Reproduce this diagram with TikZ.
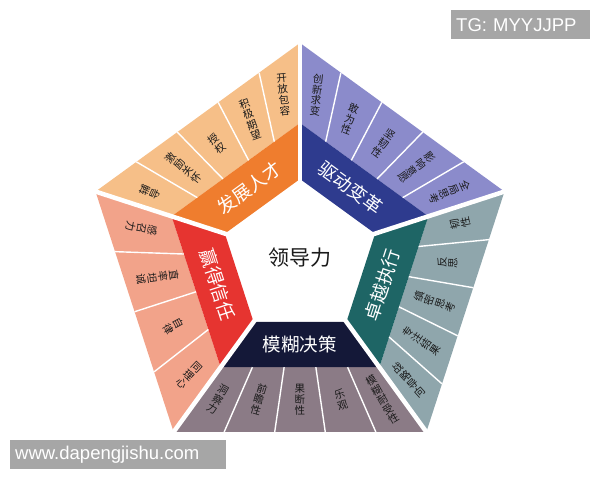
\documentclass[tikz,border=0pt]{standalone}
\usepackage{fontspec}
\setmainfont{Noto Sans CJK SC}
\newfontfamily\latinsans{Liberation Sans}
\usetikzlibrary{calc}
\definecolor{orL}{HTML}{F6BF88}
\definecolor{orD}{HTML}{EF7D2E}
\definecolor{puL}{HTML}{8B8BCB}
\definecolor{puD}{HTML}{2E3B8E}
\definecolor{teL}{HTML}{8FA6AC}
\definecolor{teD}{HTML}{1E6565}
\definecolor{nvL}{HTML}{8B7B86}
\definecolor{nvD}{HTML}{141838}
\definecolor{reL}{HTML}{F2A38A}
\definecolor{reD}{HTML}{E63430}
\definecolor{wmgrey}{HTML}{A6A6A6}
\definecolor{ink}{HTML}{1A1A1A}

\newcommand\segment[9]{%
  \fill[#3] (#1:135) -- (#1:215) -- (#2:215) -- (#2:135) -- cycle;
  \fill[#4] (#1:79) -- (#1:135) -- (#2:135) -- (#2:79) -- cycle;
  \foreach \x [count=\cnt] in {#9} {\global\let\nitems\cnt}
  \pgfmathtruncatemacro\nlast{\nitems-1}
  \foreach \k in {1,...,\nlast}
    \draw[divider] ($(#1:135)!\k/\nitems!(#2:135)$) -- ($(#1:215)!\k/\nitems!(#2:215)$);
  \foreach \txt [count=\k] in {#9} {
    \pgfmathsetmacro\f{(\k-0.5)/\nitems}
    \coordinate (#5m\k) at ($(#1:135)!\f!(#2:135)$);
    \coordinate (#5o\k) at ($(#1:215)!\f!(#2:215)$);
    \path let \p1=($(#5o\k)-(#5m\k)$), \n1={atan2(\y1,\x1)+90+#8} in
      node[item, rotate=\n1] (#5t\k) at ($(#5m\k)!0.5!(#5o\k)$) {\txt};
  }
  \node[title, rotate=#7] (#5title) at ({(#1+#2)/2}:86.6) {#6};
}

\begin{document}
\begin{tikzpicture}[x=1pt,y=1pt,
  item/.style={align=center, font=\fontsize{10.5}{11}\selectfont, text=ink, inner sep=0pt},
  title/.style={font=\fontsize{18.5}{20}\selectfont, text=white, inner sep=0pt},
  gap/.style={white, line width=4.5pt},
  divider/.style={white, line width=1.4pt},
  wm/.style={fill=wmgrey, text=white, font=\latinsans\fontsize{18.5}{20}\selectfont,
    inner xsep=5pt, inner ysep=0pt, minimum height=29pt, align=left, anchor=north west}]
\useasboundingbox (-300,-222) rectangle (300,258);

\segment{162}{90}{orL}{orD}{dev}{发展人才}{36}{180}{辅\\导, 激\\励\\关\\怀, 授\\权, 积\\极\\期\\望, 开\\放\\包\\容}
\segment{90}{18}{puL}{puD}{drv}{驱动变革}{-36}{180}{创\\新\\求\\变, 敢\\为\\性, 坚\\韧\\性, 影\\响\\意\\愿, 全\\局\\思\\考}
\segment{18}{-54}{teL}{teD}{exe}{卓越执行}{72}{0}{韧\\性, 反\\思, 缜\\密\\思\\考, 专\\注\\结\\果, 战\\略\\导\\向}
\segment{234}{306}{nvL}{nvD}{dec}{模糊决策}{0}{0}{洞\\察\\力, 前\\瞻\\性, 果\\断\\性, 乐\\观, 模\\糊\\耐\\受\\性}
\segment{162}{234}{reL}{reD}{tru}{赢得信任}{-72}{0}{感\\召\\力, 直\\率\\坦\\诚, 自\\律, 同\\理\\心}

\foreach \a in {90,162,234,306,18}
  \draw[gap] (\a:70) -- (\a:222);

\node[font=\fontsize{21}{24}\selectfont, text=ink] (core) at (0,0) {领导力};

\node[wm, text width=129pt] (tg) at (151,248) {TG: MYYJJPP};
\node[wm, text width=206pt] (web) at (-290,-182) {www.dapengjishu.com};
\end{tikzpicture}
\end{document}
